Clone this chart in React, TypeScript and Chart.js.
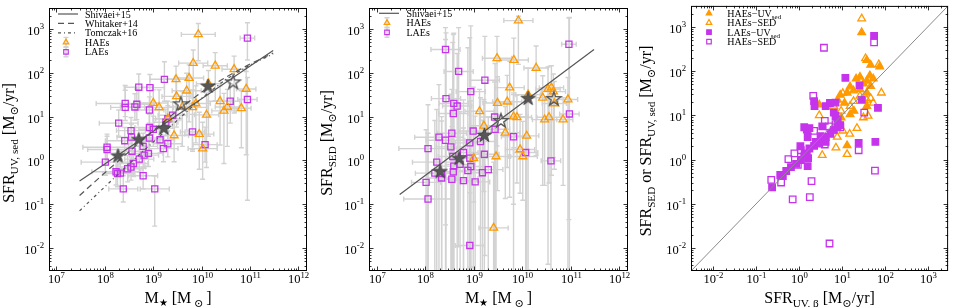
import { useEffect, useRef } from 'react';
import { Chart, registerables } from 'chart.js';

Chart.register(...registerables);

const FONT = '"Liberation Serif", "DejaVu Serif", serif';
const ORANGE = '#ff9a00';
const MAGENTA = '#c534ec';
const LINE_GRAY = '#555555';
const ERR_GRAY = '#d2d2d2';
const STAR_FILL = '#575757';

// ---------- Panel 1: SFR(UV,sed) vs stellar mass (log10 values) ----------
const p1HaeLogM = [9.93, 9.825, 10.28, 10.67, 9.74, 9.47, 9.69, 9.48, 10.14, 9.0, 9.12, 9.6, 9.81, 9.88, 10.38, 10.53, 10.46, 10.82, 10.92, 10.1, 9.95, 9.43, 10.02, 9.3];
const p1HaeLogSfr = [2.875, 2.22, 2.16, 2.08, 1.88, 1.85, 1.59, 1.46, 1.75, 1.31, 1.21, 1.22, 1.21, 1.3, 1.35, 1.22, 1.13, 1.19, 1.63, 1.04, 0.6, 0.57, 0.27, 0.95];
const p1HaeMassErr = [0.35, 0.3, 0.25, 0.25, 0.3, 0.25, 0.3, 0.3, 0.25, 0.3, 0.3, 0.3, 0.3, 0.3, 0.25, 0.25, 0.25, 0.2, 0.2, 0.25, 0.3, 0.3, 0.3, 0.25];
const p1HaeSfrErrLo = [0.6, 0.9, 0.8, 1.0, 1.0, 0.8, 0.9, 0.7, 1.2, 0.6, 0.8, 0.9, 1.0, 0.9, 1.0, 0.9, 1.2, 0.9, 1.5, 1.2, 0.8, 0.6, 0.7, 0.6];
const p1HaeSfrErrHi = [0.25, 0.3, 0.3, 0.3, 0.3, 0.3, 0.4, 0.4, 0.3, 0.3, 0.4, 0.35, 0.4, 0.4, 0.35, 0.4, 0.4, 0.4, 0.4, 0.5, 0.5, 0.5, 0.6, 0.4];

const p1LaeLogM = [10.945, 9.23, 8.7, 8.93, 8.42, 8.42, 8.62, 8.66, 8.92, 8.285, 9.4, 9.3, 9.26, 8.54, 8.92, 9.0, 9.14, 8.92, 9.21, 9.3, 8.045, 8.045, 8.41, 8.55, 8.56, 8.79, 8.81, 8.71, 8.9, 8.59, 8.54, 8.01, 8.23, 8.26, 8.32, 8.47, 8.79, 8.38, 9.03, 9.81, 10.07, 10.59, 10.945];
const p1LaeLogSfr = [2.79, 1.85, 1.67, 1.66, 1.3, 1.21, 1.22, 1.28, 1.15, 0.85, 1.03, 0.95, 0.87, 0.68, 0.75, 0.71, 0.47, 0.51, 0.27, 0.38, 0.3, 0.25, 0.45, 0.53, 0.21, 0.32, 0.12, 0.03, 0.16, -0.07, -0.15, -0.04, -0.26, -0.3, -0.29, -0.19, -0.35, -0.65, -0.65, 0.65, 0.36, 1.35, 1.39];
const p1LaeMassErr = [0.15, 0.3, 0.3, 0.3, 0.6, 0.3, 0.3, 0.3, 0.3, 0.4, 0.3, 0.3, 0.25, 0.3, 0.3, 0.3, 0.3, 0.3, 0.3, 0.3, 0.5, 0.4, 0.4, 0.3, 0.3, 0.3, 0.3, 0.3, 0.3, 0.3, 0.3, 0.5, 0.5, 0.3, 0.3, 0.3, 0.3, 0.3, 0.3, 0.25, 0.25, 0.2, 0.2];
const p1LaeSfrErrLo = [0.5, 0.5, 0.4, 0.4, 0.3, 0.3, 0.3, 0.35, 0.3, 0.3, 0.3, 0.3, 0.3, 0.3, 0.3, 0.3, 0.3, 0.3, 0.3, 0.3, 0.3, 0.3, 0.3, 0.3, 0.3, 0.3, 0.3, 0.3, 0.3, 0.3, 0.3, 0.3, 0.3, 0.3, 0.3, 0.3, 0.3, 0.3, 0.85, 0.4, 0.4, 0.5, 2.3];
const p1LaeSfrErrHi = [0.35, 0.4, 0.3, 0.3, 0.3, 0.5, 0.3, 0.35, 0.3, 0.3, 0.3, 0.3, 0.3, 0.3, 0.3, 0.3, 0.3, 0.3, 0.3, 0.3, 0.3, 0.3, 0.3, 0.3, 0.3, 0.3, 0.3, 0.3, 0.3, 0.3, 0.3, 0.3, 0.3, 0.3, 0.3, 0.3, 0.3, 0.3, 0.3, 0.4, 0.4, 0.4, 0.5];

const p1StackFilledLogM = [8.27, 8.7, 9.22, 10.13];
const p1StackFilledLogSfr = [0.1, 0.47, 0.73, 1.69];
const p1StackOpenLogM = [9.57, 10.65];
const p1StackOpenLogSfr = [1.28, 1.78];

// relations (log M, log SFR)
const relLogM = [7.477, 11.477];
const p1ShivaeiLogSfr = [-0.47, 2.51];
const p2ShivaeiLogSfr = [-0.78, 2.53];
const curveLogM = [7.477, 8.0, 8.5, 9.0, 9.5, 10.0, 10.5, 11.0, 11.477];
const whitakerLogSfr = [-0.8, -0.28, 0.2, 0.68, 1.14, 1.56, 1.9, 2.2, 2.45];
const tomczakLogSfr = [-1.15, -0.6, -0.08, 0.42, 0.92, 1.42, 1.85, 2.18, 2.43];

// ---------- Panel 2: SFR(SED) vs stellar mass ----------
const p2HaeLogM = [9.92, 9.48, 9.825, 10.285, 9.74, 9.49, 9.69, 9.12, 10.12, 10.42, 10.53, 10.6, 10.64, 10.66, 10.94, 9.82, 9.89, 10.46, 10.55, 10.84, 9.21, 9.65, 10.09, 9.955, 10.01, 9.46, 9.0, 9.41];
const p2HaeLogSfr = [3.19, 2.33, 2.29, 2.11, 1.66, 1.31, 1.34, 1.12, 1.5, 1.43, 1.63, 1.66, 1.57, 1.3, 1.39, 1.0, 0.985, 0.93, 0.985, 0.93, 0.79, 0.63, 0.56, 0.25, 0.09, 0.09, 0.05, -1.54];
const p2HaeMassErr = [0.3, 0.3, 0.3, 0.25, 0.3, 0.3, 0.3, 0.3, 0.25, 0.25, 0.25, 0.25, 0.25, 0.25, 0.2, 0.3, 0.3, 0.25, 0.25, 0.2, 0.3, 0.3, 0.25, 0.3, 0.3, 0.3, 0.3, 0.3];
const p2HaeSfrErrLo = [1.0, 2.0, 2.0, 2.0, 2.5, 2.0, 1.5, 1.5, 4.0, 2.0, 4.0, 2.0, 1.5, 1.5, 4.0, 2.0, 1.5, 1.5, 1.5, 1.5, 1.5, 1.5, 4.0, 1.0, 1.0, 4.0, 1.0, 1.0];
const p2HaeSfrErrHi = [0.1, 0.5, 0.5, 0.5, 0.6, 0.6, 0.6, 0.5, 0.6, 0.5, 0.5, 0.5, 0.4, 0.5, 0.5, 0.5, 0.5, 0.5, 0.5, 0.5, 0.6, 0.6, 0.8, 0.8, 0.8, 0.8, 0.6, 1.5];

const p2LaeLogM = [10.96, 8.42, 8.69, 9.23, 8.94, 8.43, 8.59, 8.66, 8.58, 8.06, 8.285, 8.42, 8.55, 8.53, 8.57, 8.59, 8.58, 8.79, 8.92, 8.99, 9.14, 9.43, 9.44, 9.22, 8.92, 8.94, 8.72, 8.88, 8.79, 9.03, 8.55, 8.24, 8.2, 8.34, 8.34, 8.02, 8.06, 9.18, 9.3, 9.82, 10.07, 10.59, 10.97, 8.92];
const p2LaeLogSfr = [2.65, 2.53, 2.03, 1.83, 1.57, 1.41, 1.3, 1.24, 1.07, 0.27, 0.53, 0.46, 0.62, 0.31, 0.09, -0.13, -0.26, 0.18, 0.4, 0.67, 0.43, 0.99, 0.71, 0.14, 0.05, -0.14, -0.09, -0.23, -0.46, -0.49, -0.43, -0.04, -0.29, -0.4, -0.3, -0.5, -0.88, -0.28, -0.21, 0.54, 0.18, -0.01, 1.06, -1.94];
const p2LaeMassErr = [0.15, 0.3, 0.3, 0.3, 0.3, 0.3, 0.3, 0.3, 0.3, 0.6, 0.5, 0.4, 0.3, 0.3, 0.3, 0.3, 0.3, 0.3, 0.3, 0.3, 0.3, 0.3, 0.3, 0.3, 0.3, 0.3, 0.3, 0.3, 0.3, 0.3, 0.3, 0.5, 0.4, 0.3, 0.3, 0.3, 0.5, 0.3, 0.3, 0.25, 0.25, 0.2, 0.2, 0.3];
const p2LaeSfrErrLo = [4.0, 4.0, 4.0, 4.0, 4.0, 4.0, 4.0, 4.0, 4.0, 4.0, 4.0, 4.0, 4.0, 4.0, 4.0, 4.0, 4.0, 4.0, 4.0, 4.0, 4.0, 4.0, 4.0, 4.0, 4.0, 4.0, 4.0, 4.0, 4.0, 4.0, 4.0, 4.0, 4.0, 4.0, 4.0, 4.0, 4.0, 4.0, 4.0, 4.0, 4.0, 4.0, 4.0, 1.0];
const p2LaeSfrErrHi = [0.6, 0.5, 1.0, 1.0, 1.5, 1.5, 1.6, 1.2, 1.8, 1.0, 1.2, 2.3, 1.0, 1.2, 2.6, 1.2, 1.5, 1.2, 2.4, 1.0, 1.0, 0.8, 1.5, 1.2, 1.2, 1.5, 1.2, 2.8, 1.2, 1.5, 1.2, 1.2, 1.2, 1.4, 1.2, 1.2, 1.5, 1.2, 1.2, 1.0, 1.2, 1.0, 2.2, 1.2];

const p2StackFilledLogM = [8.31, 8.7, 9.22, 10.12];
const p2StackFilledLogSfr = [-0.26, 0.04, 0.57, 1.41];
const p2StackOpenLogM = [9.56, 10.65];
const p2StackOpenLogSfr = [0.9, 1.4];

// ---------- Panel 3: SFR(SED) or SFR(UV,sed) vs SFR(UV,beta) ----------
const p3HaeUvBeta = [1.46, 1.58, 1.88, 1.67, 1.65, 1.42, 1.33, 1.58, 1.73, 1.5, 1.67, 1.19, 1.42, 1.27, 1.12, 1.58, 0.96, 1.5, 1.06, 0.9, 0.47, 1.19, 1.28, 0.98, 1.12, 1.58];
const p3HaeUvSed = [2.875, 2.25, 2.1, 2.14, 1.9, 1.87, 1.83, 1.78, 1.83, 1.72, 1.66, 1.65, 1.59, 1.56, 1.51, 1.51, 1.46, 1.35, 1.28, 1.35, 1.24, 1.02, 1.1, 0.95, 0.32, 1.21];
const p3HaeSedBeta = [1.46, 1.55, 1.86, 1.92, 1.02, 1.67, 0.47, 1.5, 1.35, 1.02, 1.18, 0.86, 0.54, 1.12, 0.89, 0.98, 1.19, 1.27, 1.42, 0.81, 1.58, 1.73, 0.77, 1.61];
const p3HaeSed = [3.19, 2.29, 2.15, 1.51, 1.5, 1.39, 1.0, 0.95, 0.71, 0.65, 0.58, 0.27, 0.1, 0.12, 0.51, 1.1, 1.21, 1.32, 1.44, 1.21, 1.35, 1.28, 0.65, 0.985];
const p3LaeUvBeta = [1.75, 1.08, 1.41, 0.35, 0.36, 0.72, 0.85, 0.62, 0.81, 0.85, 0.9, 0.96, 0.54, 0.12, 0.18, 0.24, 1.46, 1.84, 1.39, 1.78, 0.2, 0.21, 0.18, 0.39, 0.5, 0.62, 0.73, 0.81, 0.89, -0.63, -0.44, -0.38, -0.3, -0.19, -0.07, 0.04, 0.13, 0.24, 0.35, 0.47, 0.62, 0.2, 0.03];
const p3LaeUvSed = [2.8, 1.85, 1.68, 1.32, 1.21, 1.28, 1.29, 1.21, 1.06, 0.985, 0.9, 0.78, 0.75, 0.73, 0.68, 0.71, 1.35, 1.17, 0.375, 0.4, -0.15, 0.03, 0.12, 0.4, 0.53, 0.51, 0.58, 0.67, 0.75, -0.63, -0.35, -0.375, -0.26, -0.17, -0.1, -0.01, 0.14, 0.25, 0.31, 0.36, 0.4, 0.51, 0.3];
const p3LaeSedBeta = [0.58, 1.75, 0.33, 1.52, 0.6, 0.35, 0.6, 1.39, 0.04, 0.12, 0.29, 0.25, -0.15, -0.65, -0.42, 0.71, 1.77, 0.96, -0.11, -0.25, -0.03, 0.85, 0.7];
const p3LaeSed = [2.53, 2.65, 1.44, 1.06, 0.875, 0.65, 0.34, 0.21, 0.21, 0.07, -0.49, -0.85, -0.9, -0.46, -0.52, -1.9, -0.25, 0.73, 0.14, 0.01, -0.12, 0.8, 0.75];
const oneToOne = [-2.523, 3.477];

// ---------- axis ranges ----------
const MASS_MIN = 7e6;
const MASS_MAX = 1.5e12;
const SFR_MIN = 3e-3;
const SFR_MAX = 3e3;

type Part = { t: string; s?: number; dy?: number };
interface ErrGroup { lx: number[]; ly: number[]; xe: number[]; lo: number[]; hi: number[] }
interface LegendItem { kind: 'line' | 'err' | 'marker'; dash?: number[]; shape?: 'tri' | 'sq'; color?: string; filled?: boolean; label: Part[] }
interface LegendDef { y0: number; dy: number; lineX0: number; lineX1: number; markX: number; textX: number; items: LegendItem[] }
interface PanelDef {
  left: number;
  pad: { left: number; right: number; top: number; bottom: number };
  xMin: number; xMax: number; yMin: number; yMax: number;
  xTitle: Part[]; yTitle: Part[]; yTitleX: number; yTitleY: number;
  legend: LegendDef;
  errors: ErrGroup[];
  datasets: any[];
}

const pts = (lx: number[], ly: number[]) => lx.map((v, i) => ({ x: Math.pow(10, v), y: Math.pow(10, ly[i]) }));

function drawRich(ctx: CanvasRenderingContext2D, parts: Part[], x: number, y: number, size: number, align: 'left' | 'center' | 'right') {
  const widths = parts.map((p) => {
    ctx.font = `${size * (p.s ?? 1)}px ${FONT}`;
    return ctx.measureText(p.t).width;
  });
  const total = widths.reduce((a, b) => a + b, 0);
  let cx = align === 'left' ? x : align === 'center' ? x - total / 2 : x - total;
  ctx.textAlign = 'left';
  ctx.textBaseline = 'alphabetic';
  parts.forEach((p, i) => {
    ctx.font = `${size * (p.s ?? 1)}px ${FONT}`;
    ctx.fillText(p.t, cx, y + (p.dy ?? 0) * size);
    cx += widths[i];
  });
}

const pow10Label = (e: number): Part[] => [{ t: '10' }, { t: String(e), s: 0.7, dy: -0.42 }];

function markerPath(ctx: CanvasRenderingContext2D, shape: 'tri' | 'sq', x: number, y: number, r: number) {
  ctx.beginPath();
  if (shape === 'tri') {
    ctx.moveTo(x, y - r);
    ctx.lineTo(x - r * 0.866, y + r * 0.5);
    ctx.lineTo(x + r * 0.866, y + r * 0.5);
    ctx.closePath();
  } else {
    ctx.rect(x - r * 0.707, y - r * 0.707, r * 1.414, r * 1.414);
  }
}

function starCanvas(R: number, fill: string | null, stroke: string, lw: number) {
  const size = Math.ceil(2 * R + lw * 2 + 2);
  const c = document.createElement('canvas');
  c.width = size;
  c.height = size;
  const g = c.getContext('2d')!;
  const cx = size / 2;
  const cy = size / 2;
  g.beginPath();
  for (let i = 0; i < 10; i++) {
    const a = -Math.PI / 2 + (i * Math.PI) / 5;
    const rr = i % 2 === 0 ? R : R * 0.382;
    g.lineTo(cx + rr * Math.cos(a), cy + rr * Math.sin(a));
  }
  g.closePath();
  if (fill) {
    g.fillStyle = fill;
    g.fill();
  }
  g.lineJoin = 'miter';
  g.lineWidth = lw;
  g.strokeStyle = stroke;
  g.stroke();
  return c;
}

function decorPlugin(def: PanelDef) {
  return {
    id: 'panelDecor',
    beforeDatasetsDraw(chart: any) {
      const ctx: CanvasRenderingContext2D = chart.ctx;
      const a = chart.chartArea;
      const xs = chart.scales.x;
      const ys = chart.scales.y;
      const CAP = 2.5;
      ctx.save();
      ctx.beginPath();
      ctx.rect(a.left, a.top, a.right - a.left, a.bottom - a.top);
      ctx.clip();
      ctx.strokeStyle = ERR_GRAY;
      ctx.lineWidth = 1.4;
      for (const g of def.errors) {
        for (let i = 0; i < g.lx.length; i++) {
          const lx = g.lx[i];
          const ly = g.ly[i];
          const px = xs.getPixelForValue(Math.pow(10, lx));
          const py = ys.getPixelForValue(Math.pow(10, ly));
          const x0 = xs.getPixelForValue(Math.pow(10, lx - (g.xe[i] ?? 0.3)));
          const x1 = xs.getPixelForValue(Math.pow(10, lx + (g.xe[i] ?? 0.3)));
          const y0 = ys.getPixelForValue(Math.pow(10, ly - (g.lo[i] ?? 0.3)));
          const y1 = ys.getPixelForValue(Math.pow(10, ly + (g.hi[i] ?? 0.3)));
          ctx.beginPath();
          ctx.moveTo(x0, py); ctx.lineTo(x1, py);
          ctx.moveTo(x0, py - CAP); ctx.lineTo(x0, py + CAP);
          ctx.moveTo(x1, py - CAP); ctx.lineTo(x1, py + CAP);
          ctx.moveTo(px, y0); ctx.lineTo(px, y1);
          ctx.moveTo(px - CAP, y0); ctx.lineTo(px + CAP, y0);
          ctx.moveTo(px - CAP, y1); ctx.lineTo(px + CAP, y1);
          ctx.stroke();
        }
      }
      ctx.restore();
    },
    afterDraw(chart: any) {
      const ctx: CanvasRenderingContext2D = chart.ctx;
      const a = chart.chartArea;
      const xs = chart.scales.x;
      const ys = chart.scales.y;
      ctx.save();
      ctx.strokeStyle = '#000';
      ctx.lineWidth = 1;
      ctx.strokeRect(a.left + 0.5, a.top + 0.5, a.right - a.left - 1, a.bottom - a.top - 1);
      ctx.fillStyle = '#000';
      ctx.lineWidth = 0.8;
      const TICK_FONT = 12.5;
      const lx0 = Math.log10(def.xMin);
      const lx1 = Math.log10(def.xMax);
      for (let d = Math.floor(lx0); d <= Math.ceil(lx1); d++) {
        for (let m = 1; m <= 9; m++) {
          const lv = d + Math.log10(m);
          if (lv <= lx0 + 1e-6 || lv >= lx1 - 1e-6) continue;
          const px = Math.round(xs.getPixelForValue(m * Math.pow(10, d))) + 0.5;
          const len = m === 1 ? 4.5 : 2.5;
          ctx.beginPath();
          ctx.moveTo(px, a.bottom); ctx.lineTo(px, a.bottom - len);
          ctx.moveTo(px, a.top); ctx.lineTo(px, a.top + len);
          ctx.stroke();
          if (m === 1) drawRich(ctx, pow10Label(d), px, a.bottom + 12, TICK_FONT, 'center');
        }
      }
      const ly0 = Math.log10(def.yMin);
      const ly1 = Math.log10(def.yMax);
      for (let d = Math.floor(ly0); d <= Math.ceil(ly1); d++) {
        for (let m = 1; m <= 9; m++) {
          const lv = d + Math.log10(m);
          if (lv <= ly0 + 1e-6 || lv >= ly1 - 1e-6) continue;
          const py = Math.round(ys.getPixelForValue(m * Math.pow(10, d))) + 0.5;
          const len = m === 1 ? 4.5 : 2.5;
          ctx.beginPath();
          ctx.moveTo(a.left, py); ctx.lineTo(a.left + len, py);
          ctx.moveTo(a.right, py); ctx.lineTo(a.right - len, py);
          ctx.stroke();
          if (m === 1) drawRich(ctx, pow10Label(d), a.left - 5, py + 5, TICK_FONT, 'right');
        }
      }
      drawRich(ctx, def.xTitle, (a.left + a.right) / 2, a.bottom + 32, 16, 'center');
      ctx.save();
      ctx.translate(def.yTitleX, def.yTitleY);
      ctx.rotate(-Math.PI / 2);
      drawRich(ctx, def.yTitle, 0, 0, 16, 'center');
      ctx.restore();
      const L = def.legend;
      L.items.forEach((it, i) => {
        const cy = L.y0 + i * L.dy;
        if (it.kind === 'line') {
          ctx.strokeStyle = LINE_GRAY;
          ctx.lineWidth = 1.2;
          ctx.setLineDash(it.dash ?? []);
          ctx.beginPath();
          ctx.moveTo(a.left + L.lineX0, cy);
          ctx.lineTo(a.left + L.lineX1, cy);
          ctx.stroke();
          ctx.setLineDash([]);
        } else if (it.kind === 'err') {
          const mx = a.left + L.markX;
          ctx.strokeStyle = ERR_GRAY;
          ctx.lineWidth = 1.4;
          ctx.beginPath();
          ctx.moveTo(mx, cy - 5); ctx.lineTo(mx, cy + 5);
          ctx.moveTo(mx - 2.5, cy - 5); ctx.lineTo(mx + 2.5, cy - 5);
          ctx.moveTo(mx - 2.5, cy + 5); ctx.lineTo(mx + 2.5, cy + 5);
          ctx.stroke();
          markerPath(ctx, it.shape ?? 'tri', mx, cy, 3.2);
          ctx.strokeStyle = it.color ?? '#000';
          ctx.lineWidth = 1.2;
          ctx.stroke();
        } else {
          const mx = a.left + L.markX;
          markerPath(ctx, it.shape ?? 'tri', mx, cy, 3.2);
          ctx.strokeStyle = it.color ?? '#000';
          ctx.lineWidth = 1.2;
          if (it.filled) {
            ctx.fillStyle = it.color ?? '#000';
            ctx.fill();
          }
          ctx.stroke();
        }
        ctx.fillStyle = '#000';
        drawRich(ctx, it.label, a.left + L.textX, cy + 3.5, 10, 'left');
      });
      ctx.restore();
    },
  };
}

const sfrUnit: Part[] = [{ t: ' [M' }, { t: '\u2299', s: 0.7, dy: 0.22 }, { t: '/yr]' }];

function buildPanels(): PanelDef[] {
  const starFilled = starCanvas(7.5, STAR_FILL, '#444444', 1.0);
  const starOpen = starCanvas(7.5, null, '#555555', 1.3);
  const common = { showLine: false, clip: 0 } as any;
  const hae = (lx: number[], ly: number[], filled = false, r = 4.6) => ({
    ...common, data: pts(lx, ly), pointStyle: 'triangle', pointRadius: r,
    borderColor: ORANGE, backgroundColor: filled ? ORANGE : 'rgba(0,0,0,0)', borderWidth: 1.3,
  });
  const lae = (lx: number[], ly: number[], filled = false, r = 4.3) => ({
    ...common, data: pts(lx, ly), pointStyle: 'rect', pointRadius: r,
    borderColor: MAGENTA, backgroundColor: filled ? MAGENTA : 'rgba(0,0,0,0)', borderWidth: 1.3,
  });
  const stars = (lx: number[], ly: number[], img: HTMLCanvasElement) => ({
    ...common, data: pts(lx, ly), pointStyle: img, pointRadius: 7,
  });
  const line = (lx: number[], ly: number[], dash: number[], color = LINE_GRAY, w = 1.2) => ({
    ...common, showLine: true, data: pts(lx, ly), pointRadius: 0, borderColor: color,
    borderWidth: w, borderDash: dash, fill: false, tension: 0,
  });

  const massTitle: Part[] = [{ t: 'M' }, { t: '\u2605', s: 0.6, dy: 0.2 }, { t: ' [M' }, { t: ' \u2299 ', s: 0.7, dy: 0.22 }, { t: ']' }];

  const p1: PanelDef = {
    left: 0,
    pad: { left: 49, right: 11, top: 1, bottom: 36 },
    xMin: MASS_MIN, xMax: MASS_MAX, yMin: SFR_MIN, yMax: SFR_MAX,
    xTitle: massTitle,
    yTitle: [{ t: 'SFR' }, { t: 'UV, sed', s: 0.7, dy: 0.22 }, ...sfrUnit],
    yTitleX: 14, yTitleY: 143,
    legend: {
      y0: 14, dy: 9.45, lineX0: 9, lineX1: 29, markX: 17, textX: 36,
      items: [
        { kind: 'line', dash: [], label: [{ t: 'Shivaei+15' }] },
        { kind: 'line', dash: [6, 4], label: [{ t: 'Whitaker+14' }] },
        { kind: 'line', dash: [3, 3, 1, 3], label: [{ t: 'Tomczak+16' }] },
        { kind: 'err', shape: 'tri', color: ORANGE, label: [{ t: 'HAEs' }] },
        { kind: 'err', shape: 'sq', color: MAGENTA, label: [{ t: 'LAEs' }] },
      ],
    },
    errors: [
      { lx: p1HaeLogM, ly: p1HaeLogSfr, xe: p1HaeMassErr, lo: p1HaeSfrErrLo, hi: p1HaeSfrErrHi },
      { lx: p1LaeLogM, ly: p1LaeLogSfr, xe: p1LaeMassErr, lo: p1LaeSfrErrLo, hi: p1LaeSfrErrHi },
    ],
    datasets: [
      stars(p1StackFilledLogM, p1StackFilledLogSfr, starFilled),
      stars(p1StackOpenLogM, p1StackOpenLogSfr, starOpen),
      line(relLogM, p1ShivaeiLogSfr, []),
      line(curveLogM, whitakerLogSfr, [6, 4]),
      line(curveLogM, tomczakLogSfr, [3, 3, 1, 3]),
      hae(p1HaeLogM, p1HaeLogSfr),
      lae(p1LaeLogM, p1LaeLogSfr),
    ],
  };

  const p2: PanelDef = {
    left: 318,
    pad: { left: 51, right: 6, top: 1, bottom: 36 },
    xMin: MASS_MIN, xMax: MASS_MAX, yMin: SFR_MIN, yMax: SFR_MAX,
    xTitle: massTitle,
    yTitle: [{ t: 'SFR' }, { t: 'SED', s: 0.7, dy: 0.22 }, ...sfrUnit],
    yTitleX: 14, yTitleY: 143,
    legend: {
      y0: 13.3, dy: 9.5, lineX0: 10, lineX1: 30, markX: 18, textX: 37.5,
      items: [
        { kind: 'line', dash: [], label: [{ t: 'Shivaei+15' }] },
        { kind: 'err', shape: 'tri', color: ORANGE, label: [{ t: 'HAEs' }] },
        { kind: 'err', shape: 'sq', color: MAGENTA, label: [{ t: 'LAEs' }] },
      ],
    },
    errors: [
      { lx: p2HaeLogM, ly: p2HaeLogSfr, xe: p2HaeMassErr, lo: p2HaeSfrErrLo, hi: p2HaeSfrErrHi },
      { lx: p2LaeLogM, ly: p2LaeLogSfr, xe: p2LaeMassErr, lo: p2LaeSfrErrLo, hi: p2LaeSfrErrHi },
    ],
    datasets: [
      stars(p2StackFilledLogM, p2StackFilledLogSfr, starFilled),
      stars(p2StackOpenLogM, p2StackOpenLogSfr, starOpen),
      line(relLogM, p2ShivaeiLogSfr, []),
      hae(p2HaeLogM, p2HaeLogSfr),
      lae(p2LaeLogM, p2LaeLogSfr),
    ],
  };

  const p3: PanelDef = {
    left: 636,
    pad: { left: 55, right: 2, top: 1, bottom: 36 },
    xMin: SFR_MIN, xMax: SFR_MAX, yMin: SFR_MIN, yMax: SFR_MAX,
    xTitle: [{ t: 'SFR' }, { t: 'UV, \u03b2', s: 0.7, dy: 0.22 }, ...sfrUnit],
    yTitle: [{ t: 'SFR' }, { t: 'SED', s: 0.7, dy: 0.22 }, { t: ' or SFR' }, { t: 'UV, sed', s: 0.7, dy: 0.22 }, ...sfrUnit],
    yTitleX: 15, yTitleY: 141,
    legend: {
      y0: 13.3, dy: 9.45, lineX0: 10, lineX1: 30, markX: 18, textX: 36.3,
      items: [
        { kind: 'marker', shape: 'tri', filled: true, color: ORANGE, label: [{ t: 'HAEs\u2212UV' }, { t: 'sed', s: 0.7, dy: 0.22 }] },
        { kind: 'marker', shape: 'tri', filled: false, color: ORANGE, label: [{ t: 'HAEs\u2212SED' }] },
        { kind: 'marker', shape: 'sq', filled: true, color: MAGENTA, label: [{ t: 'LAEs\u2212UV' }, { t: 'sed', s: 0.7, dy: 0.22 }] },
        { kind: 'marker', shape: 'sq', filled: false, color: MAGENTA, label: [{ t: 'HAEs\u2212SED' }] },
      ],
    },
    errors: [],
    datasets: [
      line(oneToOne, oneToOne, [], '#8a8a8a', 1.0),
      lae(p3LaeUvBeta, p3LaeUvSed, true, 4.6),
      lae(p3LaeSedBeta, p3LaeSed, false, 4.6),
      hae(p3HaeUvBeta, p3HaeUvSed, true, 4.4),
      hae(p3HaeSedBeta, p3HaeSed, false, 4.4),
    ],
  };
  return [p1, p2, p3];
}

const PANEL_W = 318;
const PANEL_H = 307;

export default function App() {
  const refs = [useRef<HTMLCanvasElement>(null), useRef<HTMLCanvasElement>(null), useRef<HTMLCanvasElement>(null)];
  useEffect(() => {
    const panels = buildPanels();
    const charts = panels.map((def, i) => {
      const canvas = refs[i].current!;
      return new Chart(canvas, {
        type: 'scatter',
        data: { datasets: def.datasets },
        options: {
          animation: false,
          responsive: false,
          devicePixelRatio: 1,
          events: [],
          layout: { padding: def.pad },
          plugins: { legend: { display: false }, tooltip: { enabled: false } },
          scales: {
            x: { type: 'logarithmic', min: def.xMin, max: def.xMax, display: false },
            y: { type: 'logarithmic', min: def.yMin, max: def.yMax, display: false },
          },
        } as any,
        plugins: [decorPlugin(def) as any],
      });
    });
    return () => charts.forEach((c) => c.destroy());
  }, []);
  const lefts = [0, 318, 636];
  return (
    <div style={{ position: 'absolute', left: 0, top: 0, width: 954, height: 307, background: '#fff', overflow: 'hidden' }}>
      {lefts.map((l, i) => (
        <canvas
          key={i}
          ref={refs[i]}
          width={PANEL_W}
          height={PANEL_H}
          style={{ position: 'absolute', left: l, top: 0, width: PANEL_W, height: PANEL_H }}
        />
      ))}
    </div>
  );
}
